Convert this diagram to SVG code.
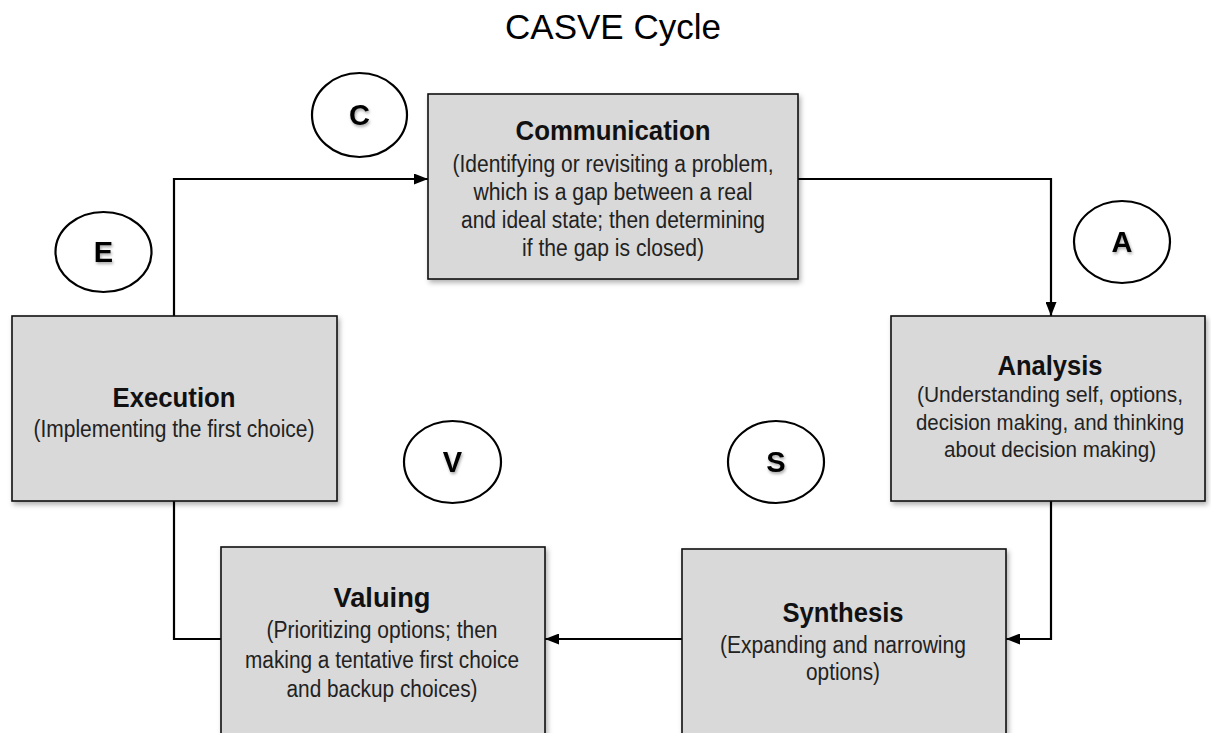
<svg xmlns="http://www.w3.org/2000/svg" width="1211" height="733" viewBox="0 0 1211 733">
  <defs>
    <filter id="shadow" x="-10%" y="-10%" width="125%" height="130%">
      <feDropShadow dx="2" dy="3" stdDeviation="2.5" flood-color="#000" flood-opacity="0.3"/>
    </filter>
    <filter id="soft" x="-30%" y="-30%" width="160%" height="160%">
      <feDropShadow dx="1" dy="2" stdDeviation="1.5" flood-color="#000" flood-opacity="0.35"/>
    </filter>
    <marker id="arrow" viewBox="0 0 14 11" refX="14" refY="5.5" markerWidth="14" markerHeight="11" markerUnits="userSpaceOnUse" orient="auto">
      <path d="M0,0 L14,5.5 L0,11 Z" fill="#000"/>
    </marker>
  </defs>
  <style>
    .box { fill: #d9d9d9; stroke: #111; stroke-width: 1.6; filter: url(#shadow); }
    .ring { fill: #fff; stroke: #000; stroke-width: 2.2; }
    .head { font-family: "Liberation Sans", Arial, sans-serif; font-weight: bold; font-size: 28px; fill: #111; text-anchor: middle; }
    .body { font-family: "Liberation Sans", Arial, sans-serif; font-size: 23.5px; fill: #222; text-anchor: middle; }
    .body.tight { font-size: 22px; }
    .letter { font-family: "Liberation Sans", Arial, sans-serif; font-weight: bold; font-size: 29px; fill: #000; text-anchor: middle; filter: url(#soft); }
    .title { font-family: "Liberation Sans", Arial, sans-serif; font-size: 35px; fill: #000; text-anchor: middle; }
    .link { fill: none; stroke: #000; stroke-width: 2.2; }
  </style>

  <rect width="1211" height="733" fill="#fff"/>

  <text class="title" x="613" y="39" textLength="216" lengthAdjust="spacingAndGlyphs">CASVE Cycle</text>

  <!-- connectors between the stages -->
  <g id="connectors">
    <path class="link" d="M174,316 L174,179 L428,179" marker-end="url(#arrow)"/>
    <path class="link" d="M798,179 L1051,179 L1051,316" marker-end="url(#arrow)"/>
    <path class="link" d="M1051,501 L1051,639 L1006,639" marker-end="url(#arrow)"/>
    <path class="link" d="M682,639 L545,639" marker-end="url(#arrow)"/>
    <path class="link" d="M221,639 L174,639 L174,501"/>
  </g>

  <g id="communication">
    <rect class="box" x="428" y="94" width="370" height="185"/>
    <text class="head" x="613" y="140" textLength="195" lengthAdjust="spacingAndGlyphs">Communication</text>
    <text class="body" x="613" y="172" textLength="321" lengthAdjust="spacingAndGlyphs">(Identifying or revisiting a problem,</text>
    <text class="body" x="613" y="200" textLength="279" lengthAdjust="spacingAndGlyphs">which is a gap between a real</text>
    <text class="body" x="613" y="228" textLength="304" lengthAdjust="spacingAndGlyphs">and ideal state; then determining</text>
    <text class="body" x="613" y="256" textLength="182" lengthAdjust="spacingAndGlyphs">if the gap is closed)</text>
  </g>

  <g id="analysis">
    <rect class="box" x="891" y="316" width="314" height="185"/>
    <text class="head" x="1050" y="375" textLength="105" lengthAdjust="spacingAndGlyphs">Analysis</text>
    <text class="body tight" x="1050" y="402" textLength="266" lengthAdjust="spacingAndGlyphs">(Understanding self, options,</text>
    <text class="body tight" x="1050" y="430" textLength="268" lengthAdjust="spacingAndGlyphs">decision making, and thinking</text>
    <text class="body tight" x="1050" y="457" textLength="212" lengthAdjust="spacingAndGlyphs">about decision making)</text>
  </g>

  <g id="synthesis">
    <rect class="box" x="682" y="549" width="324" height="200"/>
    <text class="head" x="843" y="622" textLength="121" lengthAdjust="spacingAndGlyphs">Synthesis</text>
    <text class="body" x="843" y="653" textLength="246" lengthAdjust="spacingAndGlyphs">(Expanding and narrowing</text>
    <text class="body" x="843" y="680" textLength="74" lengthAdjust="spacingAndGlyphs">options)</text>
  </g>

  <g id="valuing">
    <rect class="box" x="221" y="547" width="324" height="200"/>
    <text class="head" x="382" y="607" textLength="97" lengthAdjust="spacingAndGlyphs">Valuing</text>
    <text class="body" x="382" y="638" textLength="231" lengthAdjust="spacingAndGlyphs">(Prioritizing options; then</text>
    <text class="body" x="382" y="668" textLength="274" lengthAdjust="spacingAndGlyphs">making a tentative first choice</text>
    <text class="body" x="382" y="697" textLength="191" lengthAdjust="spacingAndGlyphs">and backup choices)</text>
  </g>

  <g id="execution">
    <rect class="box" x="12" y="316" width="325" height="185"/>
    <text class="head" x="174" y="407" textLength="123" lengthAdjust="spacingAndGlyphs">Execution</text>
    <text class="body" x="174" y="437" textLength="281" lengthAdjust="spacingAndGlyphs">(Implementing the first choice)</text>
  </g>

  <!-- stage letter badges -->
  <g id="badge-c">
    <ellipse class="ring" cx="359.5" cy="115" rx="47.5" ry="42"/>
    <text class="letter" x="359.5" y="125">C</text>
  </g>
  <g id="badge-a">
    <ellipse class="ring" cx="1122" cy="242" rx="48" ry="41"/>
    <text class="letter" x="1122" y="252">A</text>
  </g>
  <g id="badge-e">
    <ellipse class="ring" cx="103.5" cy="252" rx="48" ry="40"/>
    <text class="letter" x="103.5" y="262">E</text>
  </g>
  <g id="badge-v">
    <ellipse class="ring" cx="452.5" cy="462" rx="48.5" ry="41"/>
    <text class="letter" x="452.5" y="472">V</text>
  </g>
  <g id="badge-s">
    <ellipse class="ring" cx="776" cy="462" rx="48" ry="41"/>
    <text class="letter" x="776" y="472">S</text>
  </g>
</svg>
